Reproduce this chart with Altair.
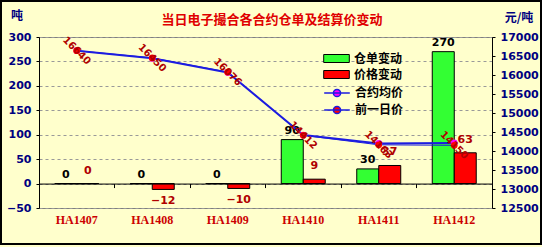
import altair as alt
import pandas as pd

categories = ["HA1407", "HA1408", "HA1409", "HA1410", "HA1411", "HA1412"]
warrant_change = [0, 0, 0, 90, 30, 270]
price_change = [0, -12, -10, 9, 37, 63]
avg_price = [16640, 16438, 16066, 14421, 14200, 14213]
prev_price = [16640, 16450, 16076, 14412, 14163, 14150]

bar_series = ["仓单变动", "价格变动"]
line_series = ["合约均价", "前一日价"]
left_ticks = [-50, 0, 50, 100, 150, 200, 250, 300]
right_ticks = [12500, 13000, 13500, 14000, 14500, 15000, 15500, 16000, 16500, 17000]

title_text = "当日电子撮合各合约仓单及结算价变动"
left_unit = "吨"
right_unit = "元/吨"

bars_df = pd.DataFrame({
    "cat": categories * 2,
    "series": [bar_series[0]] * len(categories) + [bar_series[1]] * len(categories),
    "value": warrant_change + price_change,
})
lines_df = pd.DataFrame({
    "cat": categories * 2,
    "series": [line_series[0]] * len(categories) + [line_series[1]] * len(categories),
    "price": avg_price + prev_price,
})
prev_df = pd.DataFrame({"cat": categories, "price": prev_price})
one = pd.DataFrame({"k": [0]})

FONT = "DejaVu Sans"
CJK = "Noto Sans CJK SC"
NAVY = "#000080"
BLUE = "#1C1CE0"
W, H = 453, 171
ZERO_OFF = -H * 50 / 350

xscale = alt.Scale(domain=categories, paddingInner=0, paddingOuter=0)

x_zero = alt.X("cat:N", sort=categories, scale=xscale,
               axis=alt.Axis(orient="bottom", title=None, labels=False, domain=True,
                             domainColor="black", domainWidth=1, ticks=True, tickColor="black",
                             tickSize=4, bandPosition=0, offset=ZERO_OFF, grid=False, zindex=1))
x_lab = alt.X("cat:N", sort=categories, scale=xscale,
              axis=alt.Axis(orient="bottom", title=None, domain=False, ticks=False, labelPadding=6,
                            labelFont="Liberation Serif", labelFontWeight="bold",
                            labelFontSize=12, labelColor="#CC0000", labelAngle=0, grid=False))
xoff = alt.XOffset("series:N", sort=bar_series,
                   scale=alt.Scale(domain=bar_series, paddingInner=0, paddingOuter=0.716))

y_left = alt.Y("value:Q", scale=alt.Scale(domain=[-50, 300], nice=False, zero=True),
               axis=alt.Axis(title=None, values=left_ticks, labelFont=FONT, labelFontWeight="bold",
                             labelFontSize=11, labelColor=NAVY, domainColor="black",
                             tickColor="black", tickSize=3, labelPadding=5, grid=True,
                             gridColor="#999999", gridDash=[3, 3], gridWidth=1))
y_right = alt.Y("price:Q", scale=alt.Scale(domain=[12500, 17000], nice=False, zero=False),
                axis=alt.Axis(orient="right", title=None, values=right_ticks, format="d",
                              labelFont=FONT, labelFontWeight="bold", labelFontSize=11,
                              labelColor=NAVY, domainColor="black", tickColor="black",
                              tickSize=3, labelPadding=5, grid=False))

bars = alt.Chart(bars_df).mark_bar(stroke="black", strokeWidth=1).encode(
    x=x_zero, xOffset=xoff, y=y_left,
    fill=alt.Fill("series:N", sort=bar_series,
                  scale=alt.Scale(domain=bar_series, range=["#33FF33", "#FF0000"]),
                  legend=alt.Legend(title=None, orient="none", legendX=289, legendY=13,
                                    symbolType="M-1.6,-0.5H1.6V0.5H-1.6Z", symbolSize=256,
                                    symbolStrokeColor="black", symbolStrokeWidth=1,
                                    labelFont=CJK, labelFontSize=12, labelFontWeight="bold",
                                    labelColor="black", labelOffset=9, rowPadding=1, padding=0)),
)

green_text = alt.Chart(bars_df).transform_filter(
    alt.datum.series == bar_series[0]
).mark_text(dy=-9, font=FONT, fontWeight="bold", fontSize=11, color="black").encode(
    x=x_zero, xOffset=xoff, y=y_left, text="value:Q")

red_pos = alt.Chart(bars_df).transform_filter(
    (alt.datum.series == bar_series[1]) & (alt.datum.value >= 0)
).mark_text(dy=-13, font=FONT, fontWeight="bold", fontSize=11, color="#B00000").encode(
    x=x_zero, xOffset=xoff, y=y_left, text="value:Q")

red_neg = alt.Chart(bars_df).transform_filter(
    (alt.datum.series == bar_series[1]) & (alt.datum.value < 0)
).mark_text(dy=12, font=FONT, fontWeight="bold", fontSize=11, color="#B00000").encode(
    x=x_zero, xOffset=xoff, y=y_left, text="value:Q")

border = alt.Chart(one).mark_rect(fill="transparent", stroke="black", strokeWidth=2).encode(
    x=alt.value(-38), x2=alt.value(502), y=alt.value(-36), y2=alt.value(207))

title_mark = alt.Chart(one).mark_text(text=title_text, font=CJK, fontSize=13, fontWeight="bold",
                                      color="#E00000").encode(x=alt.value(233), y=alt.value(-17))
lunit = alt.Chart(one).mark_text(text=left_unit, font=CJK, fontSize=12, fontWeight="bold",
                                 color=NAVY).encode(x=alt.value(-22), y=alt.value(-21))
runit = alt.Chart(one).mark_text(text=right_unit, font=CJK, fontSize=12, fontWeight="bold",
                                 color=NAVY).encode(x=alt.value(480), y=alt.value(-19))

left = alt.layer(bars, green_text, red_pos, red_neg, border, title_mark, lunit, runit)

lines = alt.Chart(lines_df).mark_line(color=BLUE).encode(
    x=x_lab, y=y_right, detail="series:N",
    strokeWidth=alt.StrokeWidth("series:N", scale=alt.Scale(domain=line_series, range=[2, 1]),
                                legend=None))

points = alt.Chart(lines_df).mark_circle(size=45, opacity=1).encode(
    x=x_lab, y=y_right,
    fill=alt.Fill("series:N", sort=line_series,
                  scale=alt.Scale(domain=line_series, range=["#FF00FF", "#FF0000"]),
                  legend=alt.Legend(title=None, orient="none", legendX=289, legendY=47,
                                    symbolType="M-1.6,0H1.6M-0.45,0A0.45,0.45 0 1,0 0.45,0A0.45,0.45 0 1,0 -0.45,0Z",
                                    symbolSize=256, symbolStrokeColor=BLUE, symbolStrokeWidth=1.5,
                                    labelFont=CJK, labelFontSize=12, labelFontWeight="bold",
                                    labelColor="black", labelOffset=9, rowPadding=1, padding=0)))

labels = alt.Chart(prev_df).mark_text(angle=45, font=FONT, fontWeight="bold", fontSize=10,
                                      color="#B00000").encode(
    x=x_lab, y=y_right, text=alt.Text("price:Q", format="d"))

right = alt.layer(lines, points, labels)

chart = alt.layer(left, right).resolve_scale(
    y="independent", fill="independent"
).resolve_axis(x="independent").resolve_legend(fill="independent").properties(
    width=W, height=H,
    autosize=alt.AutoSizeParams(type="none"),
    padding={"left": 39, "top": 37, "right": 50, "bottom": 39},
    background="#FFFFCC",
).configure_view(stroke="#808080", strokeWidth=1)

chart.save("out.html", embed_options={"renderer": "svg", "actions": False})
